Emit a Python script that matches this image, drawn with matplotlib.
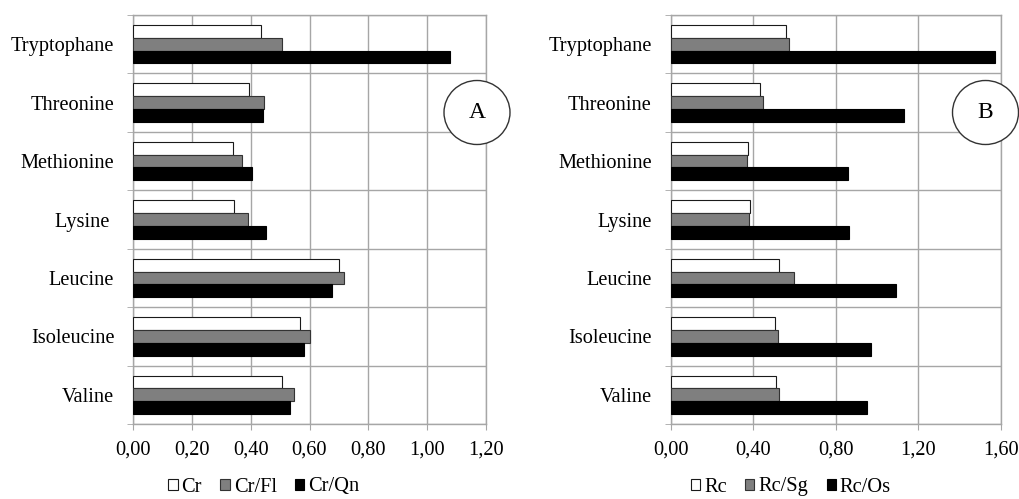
import matplotlib
matplotlib.use("Agg")
import matplotlib.pyplot as plt
from matplotlib.patches import Patch, Ellipse
import numpy as np

plt.rcParams['font.family'] = ['Liberation Serif', 'DejaVu Serif']

categories_a = ["Valine", "Isoleucine", "Leucine", "Lysine ", "Methionine", "Threonine", "Tryptophane"]
categories_b = ["Valine", "Isoleucine", "Leucine", "Lysine", "Methionine", "Threonine", "Tryptophane"]

cr    = [0.507, 0.569, 0.702, 0.343, 0.339, 0.395, 0.435]
cr_fl = [0.548, 0.603, 0.717, 0.392, 0.369, 0.446, 0.507]
cr_qn = [0.535, 0.580, 0.675, 0.451, 0.405, 0.443, 1.079]

rc    = [0.509, 0.504, 0.527, 0.384, 0.375, 0.435, 0.559]
rc_sg = [0.527, 0.522, 0.596, 0.381, 0.368, 0.446, 0.572]
rc_os = [0.952, 0.973, 1.094, 0.865, 0.860, 1.131, 1.571]

labels_a = ["Cr", "Cr/Fl", "Cr/Qn"]
labels_b = ["Rc", "Rc/Sg", "Rc/Os"]
xticks_a = [0.0, 0.2, 0.4, 0.6, 0.8, 1.0, 1.2]
xticks_b = [0.0, 0.4, 0.8, 1.2, 1.6]

W, H = 1019, 499
fig = plt.figure(figsize=(W / 100, H / 100), dpi=100)

fills = ['white', '#7f7f7f', 'black']
edges = ['#1a1a1a', '#333333', 'black']
grid_c = '#a6a6a6'
FS = 14.7


def panel(rect, cats, series, xticks, xmax, letter, circ_center, legend_labels, legend_center):
    ax = fig.add_axes(rect)
    y = np.arange(len(cats))
    h = 0.22
    offs = [h, 0, -h]
    for s, off, fc, ec in zip(series, offs, fills, edges):
        ax.barh(y + off, s, height=h, color=fc, edgecolor=ec, linewidth=0.8, zorder=3)
    ax.set_xlim(0, xmax)
    ax.set_ylim(-0.5, len(cats) - 0.5)
    ax.set_xticks(xticks)
    ax.set_xticklabels([f"{v:.2f}".replace('.', ',') for v in xticks], fontsize=FS)
    ax.set_yticks(y)
    ax.set_yticklabels(cats, fontsize=FS)
    ax.set_yticks(np.arange(-0.5, len(cats), 1.0), minor=True)
    ax.tick_params(axis='y', which='major', length=0, pad=13.7)
    ax.tick_params(axis='y', which='minor', length=4.5, color=grid_c, direction='out')
    ax.tick_params(axis='x', which='major', length=4, color=grid_c, pad=8, direction='out')
    ax.grid(True, axis='x', which='major', color=grid_c, linewidth=1.0, zorder=0)
    ax.grid(True, axis='y', which='minor', color=grid_c, linewidth=1.0, zorder=0)
    for sp in ax.spines.values():
        sp.set_color(grid_c)
        sp.set_linewidth(1.0)
    ax.set_axisbelow(True)

    cx, cy = circ_center
    el = Ellipse((cx / W, 1 - cy / H), 66 / W, 64 / H, transform=fig.transFigure,
                 facecolor='white', edgecolor='#333333', linewidth=1.0, zorder=5)
    fig.add_artist(el)
    fig.text(cx / W, 1 - cy / H, letter, ha='center', va='center', fontsize=17, zorder=6)

    handles = [Patch(facecolor=fc, edgecolor=ec, linewidth=0.8) for fc, ec in zip(fills, edges)]
    lx, ly = legend_center
    fig.legend(handles, legend_labels, loc='center', bbox_to_anchor=(lx / W, 1 - ly / H),
               bbox_transform=fig.transFigure, ncol=3, frameon=False, fontsize=FS,
               handlelength=0.45, handleheight=0.45, handletextpad=0.2, columnspacing=0.9,
               borderpad=0, borderaxespad=0)
    return ax


panel([133.3 / W, 1 - 424 / H, 352.4 / W, 409 / H], categories_a, [cr, cr_fl, cr_qn],
      xticks_a, 1.2, "A", (477, 112.5), labels_a, (264, 487))
panel([670.7 / W, 1 - 424 / H, 330 / W, 409 / H], categories_b, [rc, rc_sg, rc_os],
      xticks_b, 1.6, "B", (985.5, 112.5), labels_b, (791, 487))

fig.savefig("out.png", dpi=100)
